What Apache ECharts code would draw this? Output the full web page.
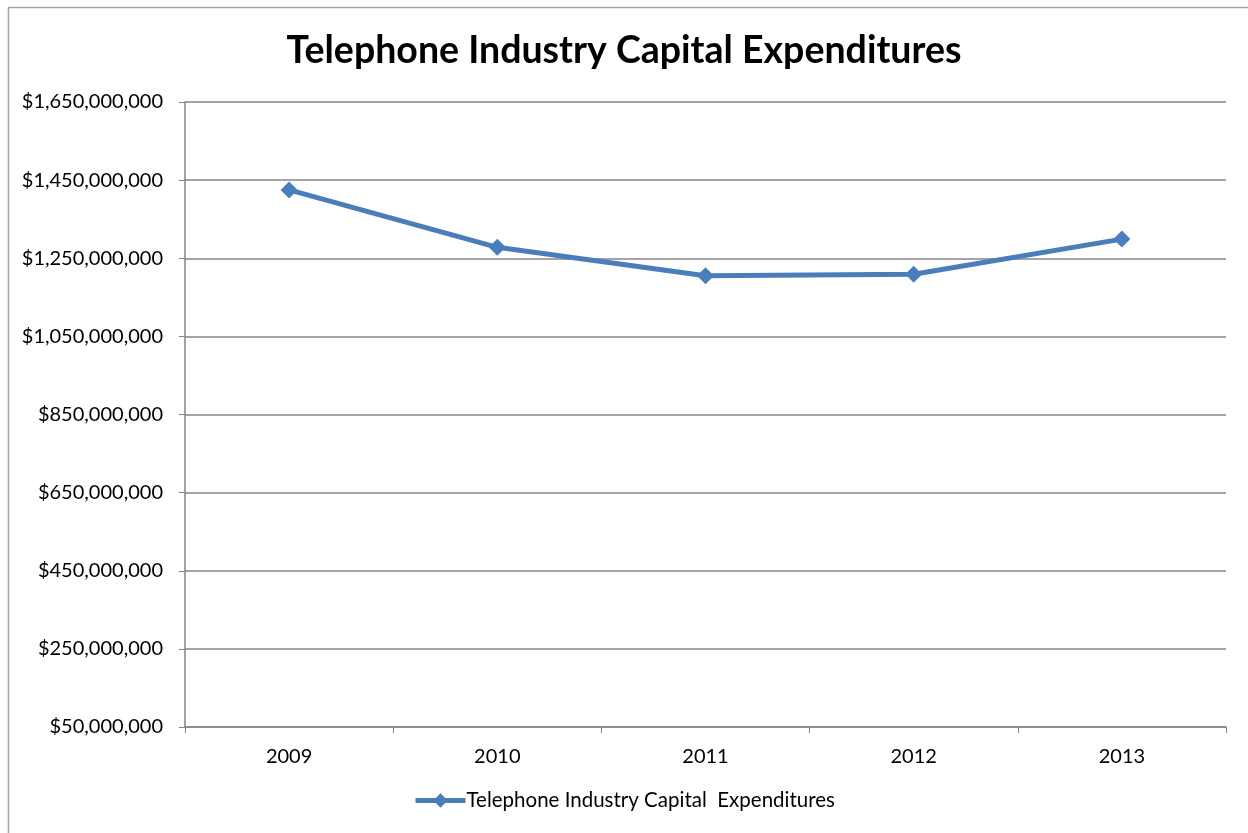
<!DOCTYPE html>
<html>
<head>
<meta charset="utf-8">
<script src="https://cdn.jsdelivr.net/npm/echarts@6/dist/echarts.min.js"></script>
<style>
html,body{margin:0;padding:0;background:#fff;}
#chart{width:1248px;height:833px;}
</style>
</head>
<body>
<div id="chart"></div>
<script>
var categories = ['2009', '2010', '2011', '2012', '2013'];
var seriesName = 'Telephone Industry Capital  Expenditures';
var values = [1425000000, 1278000000, 1205000000, 1209000000, 1299000000];
var yTicks = { min: 50000000, max: 1650000000, interval: 200000000 };
var titleText = 'Telephone Industry Capital Expenditures';

var FONT = 'Lato';
function money(v) {
  return '$' + Math.round(v).toString().replace(/\B(?=(\d{3})+(?!\d))/g, ',');
}
var chart = echarts.init(document.getElementById('chart'), null, { renderer: 'canvas' });
chart.setOption({
  backgroundColor: '#ffffff',
  animation: false,
  graphic: [{
    type: 'rect', z: -1,
    shape: { x: 8.5, y: 7.5, width: 1400, height: 1000 },
    style: { fill: 'none', stroke: '#a6a6a6', lineWidth: 1.5 }
  }],
  title: {
    text: titleText, left: 'center', top: 27,
    textStyle: { fontFamily: FONT, fontWeight: 'bold', fontSize: 37.5, color: '#000' }
  },
  grid: { left: 185, right: 22, top: 102, bottom: 106, containLabel: false },
  legend: {
    bottom: 17, left: 'center',
    itemWidth: 50, itemHeight: 18, itemGap: 2,
    lineStyle: { width: 5 },
    textStyle: { fontFamily: FONT, fontSize: 20.5, color: '#000', padding: [0, 0, 0, -4] },
    data: [seriesName]
  },
  xAxis: {
    type: 'category', data: categories, boundaryGap: true,
    axisLine: { lineStyle: { color: '#868686', width: 1.5 } },
    axisTick: { show: true, length: 6, inside: false, lineStyle: { color: '#868686' } },
    axisLabel: { fontFamily: FONT, fontSize: 20, color: '#000', margin: 20 },
    splitLine: { show: false }
  },
  yAxis: {
    type: 'value', min: yTicks.min, max: yTicks.max, interval: yTicks.interval,
    axisLine: { show: true, lineStyle: { color: '#868686', width: 1.5 } },
    axisTick: { show: true, length: 6, lineStyle: { color: '#868686' } },
    axisLabel: { fontFamily: FONT, fontSize: 20, color: '#000', margin: 22, formatter: money },
    splitLine: { show: true, lineStyle: { color: '#868686', width: 1.5 } }
  },
  series: [{
    name: seriesName, type: 'line', data: values,
    symbol: 'diamond', symbolSize: 17,
    lineStyle: { color: '#4a7ebb', width: 5 },
    itemStyle: { color: '#4a7ebb' }
  }]
});
</script>
</body>
</html>
